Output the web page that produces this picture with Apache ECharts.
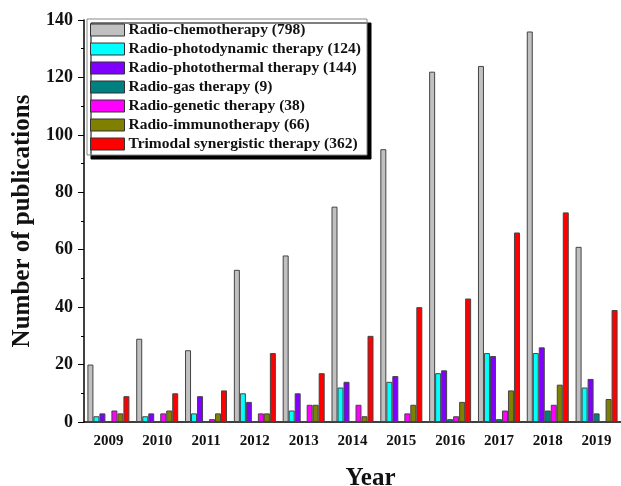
<!DOCTYPE html>
<html>
<head>
<meta charset="utf-8">
<script src="https://cdn.jsdelivr.net/npm/echarts@6/dist/echarts.min.js"></script>
<style>
  html, body { margin: 0; padding: 0; background: #fff; }
  #chart { width: 621px; height: 486px; }
</style>
</head>
<body>
<div id="chart"></div>
<script>
// years on the x axis
var years = ['2009', '2010', '2011', '2012', '2013', '2014', '2015', '2016', '2017', '2018', '2019'];

// publications per year, one array per therapy
var chemo        = [20, 29, 25, 53, 58, 75, 95, 122, 124, 136, 61];
var photodynamic = [2, 2, 3, 10, 4, 12, 14, 17, 24, 24, 12];
var photothermal = [3, 3, 9, 7, 10, 14, 16, 18, 23, 26, 15];
var gas          = [0, 0, 0, 0, 0, 0, 0, 1, 1, 4, 3];
var genetic      = [4, 3, 1, 3, 6, 6, 3, 2, 4, 6, 0];
var immuno       = [3, 4, 3, 3, 6, 2, 6, 7, 11, 13, 8];
var trimodal     = [9, 10, 11, 24, 17, 30, 40, 43, 66, 73, 39];

var names = [
    'Radio-chemotherapy (798)',
    'Radio-photodynamic therapy (124)',
    'Radio-photothermal therapy (144)',
    'Radio-gas therapy (9)',
    'Radio-genetic therapy (38)',
    'Radio-immunotherapy (66)',
    'Trimodal synergistic therapy (362)'
];
var colors = ['#c0c0c0', '#00ffff', '#8000ff', '#008080', '#ff00ff', '#808000', '#ff0000'];
var values = [chemo, photodynamic, photothermal, gas, genetic, immuno, trimodal];

var font = '"Liberation Serif", "Times New Roman", serif';

var chart = echarts.init(document.getElementById('chart'));

var series = [];
for (var i = 0; i < names.length; i++) {
    series.push({
        name: names[i],
        type: 'bar',
        barWidth: 6,
        barGap: '0%',
        itemStyle: { color: colors[i], borderColor: '#444', borderWidth: 1 },
        data: values[i]
    });
}

chart.setOption({
    animation: false,
    color: colors,
    grid: { left: 84, right: 0, top: 20, bottom: 64, outerBoundsMode: 'none' },
    legend: {
        orient: 'vertical',
        left: 87,
        top: 19,
        padding: [3, 6, 3, 3],
        itemGap: 3,
        itemWidth: 34,
        itemHeight: 12,
        icon: 'rect',
        backgroundColor: '#fff',
        borderColor: '#888',
        borderWidth: 1,
        shadowColor: '#000',
        shadowOffsetX: 4,
        shadowOffsetY: 4,
        shadowBlur: 0,
        itemStyle: { borderColor: '#333', borderWidth: 1 },
        textStyle: { fontFamily: font, fontWeight: 'bold', fontSize: 15.5, color: '#111', lineHeight: 14, padding: [0, 0, 0, -1] },
        data: names
    },
    xAxis: [{
        type: 'category',
        data: years,
        name: 'Year',
        nameLocation: 'middle',
        nameGap: 44,
        nameTextStyle: { fontFamily: font, fontWeight: 'bold', fontSize: 25, color: '#111', padding: [0, 0, 0, 36] },
        axisLine: { lineStyle: { color: '#000', width: 1.5 } },
        axisTick: { alignWithLabel: true, inside: false, length: 6, lineStyle: { color: '#000' } },
        axisLabel: { fontFamily: font, fontWeight: 'bold', fontSize: 15, color: '#111', margin: 12 }
    }, {
        // second category axis only for the short ticks between years
        type: 'category',
        data: years,
        position: 'bottom',
        axisLine: { show: false },
        axisTick: { length: 3, lineStyle: { color: '#000' } },
        axisLabel: { show: false }
    }],
    yAxis: {
        type: 'value',
        min: 0,
        max: 140,
        interval: 20,
        name: 'Number of publications',
        nameLocation: 'middle',
        nameGap: 48,
        nameTextStyle: { fontFamily: font, fontWeight: 'bold', fontSize: 25, color: '#111' },
        axisLine: { show: true, lineStyle: { color: '#000', width: 1.5 } },
        axisTick: { show: true, length: 6, lineStyle: { color: '#000' } },
        minorTick: { show: true, splitNumber: 2, length: 3, lineStyle: { color: '#000' } },
        splitLine: { show: false },
        axisLabel: { fontFamily: font, fontWeight: 'bold', fontSize: 18, color: '#111', margin: 11 }
    },
    series: series
});
</script>
</body>
</html>
